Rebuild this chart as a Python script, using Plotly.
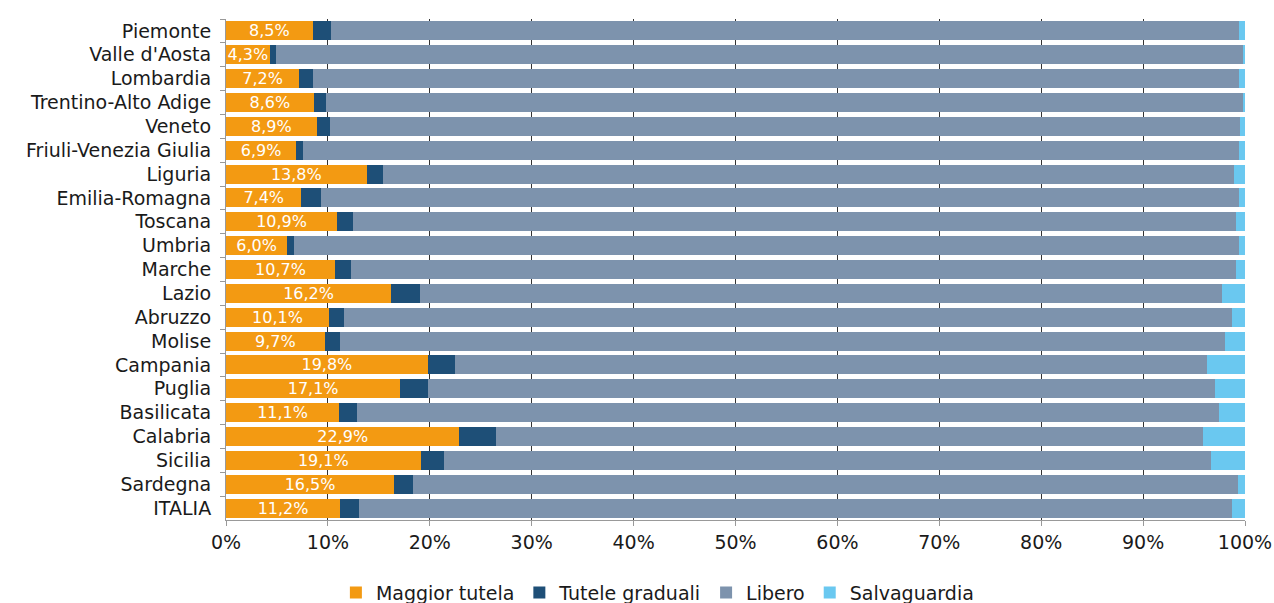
import plotly.graph_objects as go

regions = ["Piemonte", "Valle d'Aosta", "Lombardia", "Trentino-Alto Adige", "Veneto",
           "Friuli-Venezia Giulia", "Liguria", "Emilia-Romagna", "Toscana", "Umbria",
           "Marche", "Lazio", "Abruzzo", "Molise", "Campania", "Puglia", "Basilicata",
           "Calabria", "Sicilia", "Sardegna", "ITALIA"]

maggior_tutela = [8.5, 4.3, 7.2, 8.6, 8.9, 6.9, 13.8, 7.4, 10.9, 6.0, 10.7, 16.2,
                  10.1, 9.7, 19.8, 17.1, 11.1, 22.9, 19.1, 16.5, 11.2]
tutele_graduali = [1.8, 0.6, 1.35, 1.2, 1.35, 0.7, 1.6, 1.9, 1.6, 0.7, 1.6, 2.8,
                   1.5, 1.5, 2.65, 2.75, 1.75, 3.6, 2.3, 1.85, 1.85]
salvaguardia = [0.6, 0.2, 0.6, 0.1, 0.45, 0.6, 1.1, 0.6, 0.9, 0.6, 0.9, 2.25,
                1.25, 1.95, 3.7, 2.95, 2.6, 4.1, 3.35, 0.7, 1.25]
libero = [round(100 - a - b - c, 2) for a, b, c in zip(maggior_tutela, tutele_graduali, salvaguardia)]

x_ticks = list(range(0, 101, 10))
x_tick_labels = [f"{v}%" for v in x_ticks]

FONT = "DejaVu Sans"
TXT = "#1a1a1a"
LABEL_SIZE = 19

fig = go.Figure()
fig.add_trace(go.Bar(y=regions, x=maggior_tutela, orientation="h", name="Maggior tutela",
                     marker=dict(color="#f39a12", line=dict(width=0)),
                     texttemplate="%{x:.1f}%", textposition="inside", insidetextanchor="middle",
                     textfont=dict(color="white", size=16, family=FONT), textangle=0,
                     constraintext="none"))
fig.add_trace(go.Bar(y=regions, x=tutele_graduali, orientation="h", name="Tutele graduali",
                     marker=dict(color="#1e4f77", line=dict(width=0))))
fig.add_trace(go.Bar(y=regions, x=libero, orientation="h", name="Libero",
                     marker=dict(color="#7d93ad", line=dict(width=0))))
fig.add_trace(go.Bar(y=regions, x=salvaguardia, orientation="h", name="Salvaguardia",
                     marker=dict(color="#6ac8f0", line=dict(width=0))))

fig.update_layout(
    barmode="stack",
    bargap=0.2,
    width=1274, height=603,
    margin=dict(l=226, r=29, t=19, b=83, autoexpand=False),
    paper_bgcolor="white", plot_bgcolor="white",
    separators=",.",
    font=dict(family=FONT, size=LABEL_SIZE, color=TXT),
    uniformtext=dict(minsize=10, mode="show"),
    legend=dict(orientation="h", x=0.516, xref="container", xanchor="center",
                y=-0.145, yanchor="middle",
                font=dict(size=LABEL_SIZE, color=TXT, family=FONT),
                traceorder="normal"),
    showlegend=True,
)
fig.update_xaxes(range=[0, 100], tickvals=x_ticks, ticktext=x_tick_labels,
                 showgrid=True, gridcolor="#333333", gridwidth=1,
                 showline=True, linecolor="#999999", linewidth=1,
                 ticks="outside", ticklen=5, tickcolor="#999999",
                 tickfont=dict(size=LABEL_SIZE, color=TXT), zeroline=False, automargin=False)
fig.update_yaxes(autorange="reversed", showline=True, linecolor="#999999", linewidth=1,
                 ticks="outside", ticklen=5, tickcolor="#999999", tickson="boundaries",
                 tickfont=dict(size=LABEL_SIZE, color=TXT), ticklabelstandoff=10, automargin=False)

fig.write_html("out.html",
               config={"displayModeBar": False},
               post_script="document.body.style.margin='0';document.body.style.overflow='hidden';")
